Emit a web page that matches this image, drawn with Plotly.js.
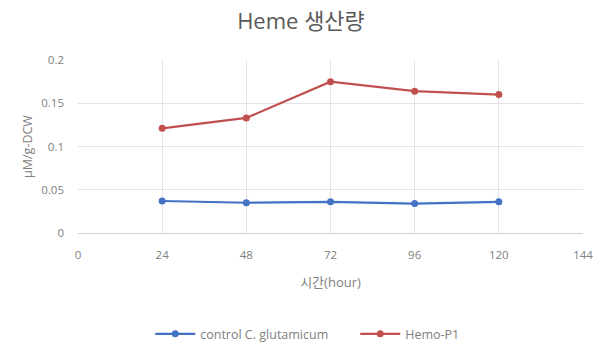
<!DOCTYPE html>
<html>
<head>
<meta charset="utf-8">
<script src="https://cdn.plot.ly/plotly-3.0.1.min.js"></script>
<style>
  html, body { margin: 0; padding: 0; background: #fff; }
  #chart { width: 602px; height: 349px; }
</style>
</head>
<body>
<div id="chart"></div>
<script>
// Sampling times (hours)
const hours = [24, 48, 72, 96, 120];

// Heme production, µM per g dry cell weight
const controlValues = [0.037, 0.035, 0.036, 0.034, 0.036];
const hemoP1Values = [0.121, 0.133, 0.175, 0.164, 0.160];

const seriesNames = ['control C. glutamicum', 'Hemo-P1'];

const xTicks = [0, 24, 48, 72, 96, 120, 144];
const yTicks = [0, 0.05, 0.1, 0.15, 0.2];
const yTickText = ['0', '0.05', '0.1', '0.15', '0.2'];

const font = 'Open Sans, Noto Sans CJK KR, sans-serif';
const textGray = '#808080';

function series(name, y, color) {
  return {
    x: hours, y: y, name: name, type: 'scatter', mode: 'lines+markers',
    line: { color: color, width: 2.2 },
    marker: { color: color, size: 7, symbol: 'circle' }
  };
}

const data = [
  series(seriesNames[0], controlValues, '#4472c4'),
  series(seriesNames[1], hemoP1Values, '#c0504d')
];

const layout = {
  width: 602, height: 349,
  // fixed plot box; nothing may resize it
  margin: { l: 78, r: 19, t: 60, b: 116, autoexpand: false },
  paper_bgcolor: '#fff', plot_bgcolor: '#fff',
  font: { family: font, color: textGray, size: 11 },
  title: {
    text: 'Heme 생산량',
    font: { family: font, size: 22, color: '#595959' },
    x: 0.5, xanchor: 'center', y: 0.94, yanchor: 'middle'
  },
  xaxis: {
    range: [0, 144], tickvals: xTicks, ticktext: xTicks.map(String),
    showgrid: true, gridcolor: '#e3e3e3', gridwidth: 1,
    zeroline: false, showline: true, linecolor: '#d0d0d0',
    ticks: '', ticklen: 0, ticklabelstandoff: 11,
    automargin: false,
    tickfont: { size: 11.5, color: textGray },
    title: { text: '시간(hour)', font: { size: 13, color: textGray }, standoff: 17 }
  },
  yaxis: {
    range: [0, 0.2], tickvals: yTicks, ticktext: yTickText,
    showgrid: true, gridcolor: '#e3e3e3', gridwidth: 1,
    zeroline: false, showline: false,
    ticks: '', ticklen: 0, ticklabelstandoff: 13,
    automargin: false,
    tickfont: { size: 11.5, color: textGray },
    title: { text: 'μM/g-DCW', font: { size: 12.5, color: textGray }, standoff: 5 }
  },
  showlegend: true,
  legend: {
    orientation: 'h', x: 0.143, xanchor: 'left', y: -0.585, yanchor: 'middle',
    font: { size: 12.5, color: textGray },
    itemwidth: 40, entrywidth: 150
  }
};

Plotly.newPlot('chart', data, layout, { displayModeBar: false, staticPlot: true });
</script>
</body>
</html>
